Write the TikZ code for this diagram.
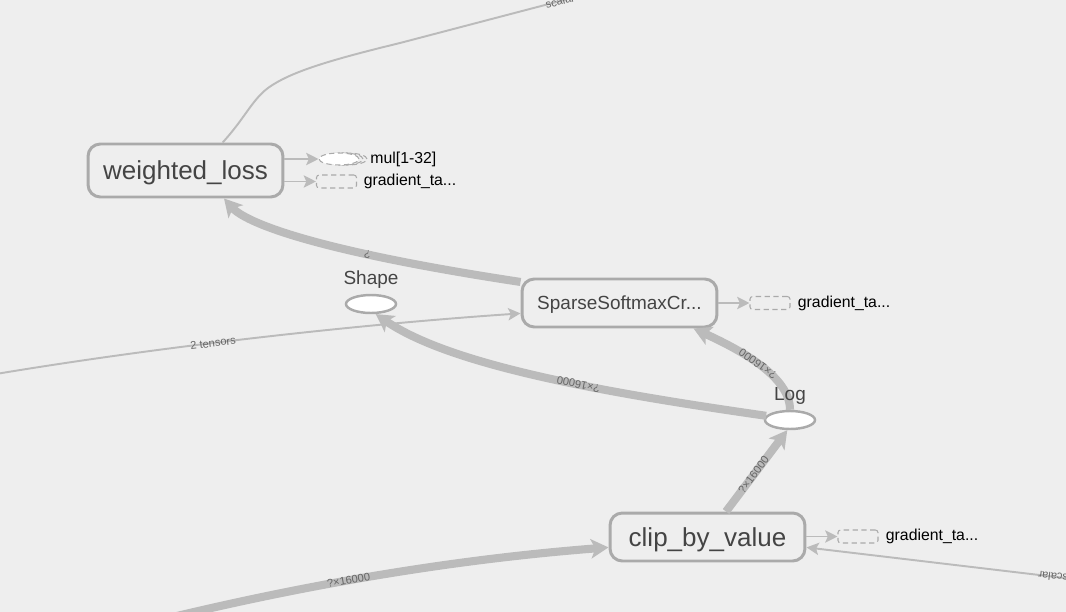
\documentclass[tikz,border=0pt]{standalone}
\usepackage{fontspec}
\setmainfont{Liberation Sans}
\usetikzlibrary{arrows.meta,positioning,shapes.geometric}

\definecolor{bg}{HTML}{EEEEEE}
\definecolor{edgegray}{HTML}{BBBBBB}
\definecolor{nodegray}{HTML}{AAAAAA}
\definecolor{textgray}{HTML}{444444}
\definecolor{labelgray}{HTML}{666666}

\begin{document}
\begin{tikzpicture}[x=0.02cm, y=-0.02cm]
            \tikzset{op/.style = {shape=rectangle, rounded corners=7pt, draw=nodegray, line width=1.7pt, fill=bg, text=textgray, minimum width=3.9cm, minimum height=0.96cm, inner sep=0pt, text height=10.6pt, text depth=0pt}}
            \tikzset{leaf/.style = {shape=ellipse, draw=nodegray, line width=1.4pt, fill=white, minimum width=1cm, minimum height=0.36cm, inner sep=0pt}}
            \tikzset{summary/.style = {shape=rectangle, rounded corners=1.5pt, draw=nodegray, densely dashed, line width=0.6pt, minimum width=0.8cm, minimum height=0.26cm, inner sep=0pt}}
            \tikzset{opname/.style = {font=\fontsize{10.8}{12}\selectfont, text=textgray, inner sep=0pt}}
            \tikzset{sumname/.style = {font=\fontsize{9}{10}\selectfont, text=black, inner sep=0pt}}
            \tikzset{edge/.style = {draw=edgegray, line width=1.1pt, -{Stealth[length=7pt, width=7pt, inset=1.5pt]}}}
            \tikzset{flow/.style = {draw=edgegray, line width=4.6pt, -{Stealth[length=10pt, width=11pt, inset=2.5pt]}}}
            \tikzset{elabel/.style = {font=\fontsize{6.3}{7}\selectfont, text=labelgray, sloped, allow upside down, inner sep=1pt}}

            \fill[bg] (0,0) rectangle (1066,612);
            \useasboundingbox (0,0) rectangle (1066,612);
            \clip (0,0) rectangle (1066,612);

            \node[op, minimum height=1.06cm, font=\fontsize{14.8}{16}\selectfont] (loss) at (185.5,170.5) {weighted\_loss};
            \node[op, text height=7.8pt, font=\fontsize{10.8}{12}\selectfont] (softmax) at (619.5,303) {SparseSoftmaxCr...};
            \node[op, font=\fontsize{14.8}{16}\selectfont] (clip) at (707.5,537) {clip\_by\_value};

            \node[leaf] (shape) at (371,304) {};
            \node[leaf] (log) at (790,420) {};

            \draw[nodegray, densely dashed, line width=0.6pt] (347,159) ellipse [x radius=0.4cm, y radius=0.12cm];
            \draw[nodegray, densely dashed, line width=0.6pt] (343,159) ellipse [x radius=0.4cm, y radius=0.12cm];
            \node[summary, shape=ellipse, fill=white, minimum width=0.8cm, minimum height=0.24cm] (mul) at (339,159) {};
            \node[summary] (lossgrad) at (336.5,181.5) {};
            \node[summary] (softgrad) at (770,303) {};
            \node[summary] (clipgrad) at (858,536.5) {};

            \node[sumname, right=6pt of mul] (multext) {mul[1-32]};
            \node[sumname, right=3.7pt of lossgrad] (lossgradtext) {gradient\_ta...};
            \node[sumname, right=4pt of softgrad] (softgradtext) {gradient\_ta...};
            \node[sumname, right=4pt of clipgrad] (clipgradtext) {gradient\_ta...};

            \coordinate (outscalar) at (600,-9.4);
            \coordinate (intensors) at (-10,375);
            \coordinate (inclip) at (140,625);
            \coordinate (inscalar) at (1090,581);

            \draw[flow] (softmax.168) .. controls (310,250) and (245,222) .. (loss.-36) node[elabel, pos=0.3] {?};
            \draw[flow] (log.170) .. controls (600,392) and (450,365) .. (shape.-65) node[elabel, pos=0.4] {?×16000};
            \draw[flow] (log.north) .. controls (790,378) and (745,352) .. (softmax.-19) node[elabel, pos=0.53] {?×16000};
            \draw[flow] (clip.54) -- (log.-105) node[elabel, pos=0.45] {?×16000};
            \draw[flow] (inclip) .. controls (260,595) and (420,562) .. (clip.186) node[elabel, pos=0.5] {?×16000};

            \draw[edge] (intensors) .. controls (150,348) and (350,325) .. (softmax.186) node[elabel, pos=0.43] {2 tensors};
            \draw[edge, -] (loss.37) .. controls (245,118) and (252,100) .. (268,88) .. controls (290,72) and (330,60) .. (400,43) -- (outscalar) node[elabel, pos=0.8] {scalar};
            \draw[edge] (inscalar) -- (clip.-6) node[elabel, pos=0.13] {scalar};

            \draw[edge] (loss.east |- mul) -- (mul);
            \draw[edge] (loss.east |- lossgrad) -- (lossgrad);
            \draw[edge] (softmax) -- (softgrad);
            \draw[edge] (clip.east |- clipgrad) -- (clipgrad);

            \node[opname, above=3pt of shape] (shapetext) {Shape};
            \node[opname, above=2.8pt of log] (logtext) {Log};
        \end{tikzpicture}
\end{document}
